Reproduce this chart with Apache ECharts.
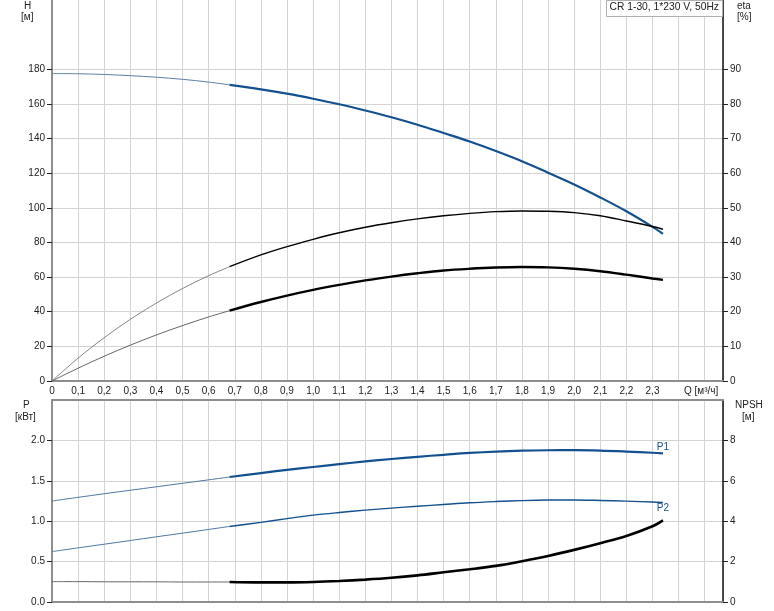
<!DOCTYPE html>
<html><head><meta charset="utf-8">
<script src="https://cdn.jsdelivr.net/npm/echarts@6/dist/echarts.min.js"></script>
<style>html,body{margin:0;padding:0;background:#fff}#c{width:774px;height:611px}</style>
</head><body><div id="c"></div>
<script>
// Flow points (m³/h)
const qPts = [0,0.1,0.2,0.3,0.4,0.5,0.6,0.68,0.8,0.9,1.0,1.1,1.2,1.3,1.4,1.5,1.6,1.7,1.8,1.9,2.0,2.1,2.2,2.3,2.34];
// Head H [m]
const headH = [177.5,177.4,177.0,176.3,175.4,174.2,172.6,171.0,168.4,165.9,163.0,159.8,156.2,152.3,148.0,143.2,138.3,132.8,126.9,120.3,113.5,106.0,98.0,89.0,85.0];
// Efficiency eta [%] (upper curve)
const etaPump = [0,6.6,12.5,17.8,22.5,26.7,30.4,33.0,36.4,38.8,40.9,42.8,44.4,45.7,46.8,47.7,48.4,48.9,49.1,49.0,48.6,47.7,46.2,44.6,43.8];
// Efficiency eta [%] (lower curve)
const etaTotal = [0,3.7,7.15,10.35,13.3,16.0,18.5,20.3,22.8,24.65,26.3,27.75,29.05,30.15,31.1,31.9,32.4,32.75,32.9,32.8,32.4,31.7,30.7,29.6,29.2];
// Power P1, P2 [kW]
const powerP1 = [1.25,1.295,1.34,1.383,1.426,1.469,1.512,1.547,1.596,1.635,1.671,1.706,1.74,1.77,1.797,1.822,1.845,1.862,1.873,1.878,1.879,1.874,1.862,1.847,1.84];
const powerP2 = [0.624,0.67,0.715,0.761,0.807,0.852,0.898,0.935,0.985,1.032,1.075,1.108,1.137,1.162,1.185,1.207,1.228,1.243,1.255,1.262,1.263,1.257,1.248,1.237,1.232];
// NPSH [m]
const npsh = [1.01,1.01,1.0,1.0,1.0,0.99,0.99,0.99,0.97,0.97,0.99,1.04,1.11,1.2,1.32,1.47,1.62,1.79,2.02,2.28,2.58,2.91,3.27,3.75,4.04];
// Start of operating range (thick part)
const qSplit = 0.68;
// Labelled ticks
const hTicks = [0,20,40,60,80,100,120,140,160,180];
const etaTicks = [0,10,20,30,40,50,60,70,80,90];
const pTicks = [0,0.5,1.0,1.5,2.0];
const npshTicks = [0,2,4,6,8];
const titleText = 'CR 1-30, 1*230 V, 50Hz';

const BLUE = '#12508f';
const GRID = '#d3d3d3';
const AXG = '#8e8e8e';
const TXT = '#222';
const FONT = 'Liberation Sans, Arial, sans-serif';

function pairs(vals, thick) {
  const out = [];
  qPts.forEach((q, i) => {
    if (thick ? q >= qSplit : q <= qSplit) out.push([q, vals[i]]);
  });
  return out;
}
function fmtQ(v) {
  if (v > 2.35) return '';
  if (Math.abs(v) < 1e-9) return '0';
  return v.toFixed(1).replace('.', ',');
}
function lineSeries(vals, xi, yi, color, thinW, thickW, thinColor, extra) {
  return [
    {type:'line', xAxisIndex:xi, yAxisIndex:yi, data:pairs(vals,false), smooth:0.35, symbol:'none',
     lineStyle:{color:thinColor, width:thinW}, silent:true, animation:false, z:3},
    Object.assign({type:'line', xAxisIndex:xi, yAxisIndex:yi, data:pairs(vals,true), smooth:0.35, symbol:'none',
     lineStyle:{color:color, width:thickW}, silent:true, animation:false, z:4}, extra||{})
  ];
}
function endMark(vals, text, pos) {
  const n = qPts.length - 1;
  return {markPoint:{symbol:'circle', symbolSize:0, silent:true, animation:false,
    data:[{coord:[qPts[n], vals[n]], label:{show:true, position:pos, distance:1, formatter:text,
      color:BLUE, fontSize:10, fontFamily:FONT}}]}};
}

const lbl = {color:TXT, fontSize:10, fontFamily:FONT};
const xCommon = {type:'value', min:0, max:2.57, interval:0.1,
  splitLine:{show:true, lineStyle:{color:GRID, width:1}}, axisTick:{show:false}};
function yAx(grid, pos, min, max, interval, ticks, fmt, split, axColor, axW) {
  return {type:'value', gridIndex:grid, position:pos, min:min, max:max, interval:interval,
    axisLine:{show:true, onZero:false, lineStyle:{color:axColor, width:axW}},
    axisTick:{show:true, length:5, customValues:ticks, lineStyle:{color:'#222'}},
    axisLabel:Object.assign({}, lbl, {margin:7, customValues:ticks, formatter:fmt}),
    splitLine:{show:split, lineStyle:{color:GRID, width:1}}};
}

const chart = echarts.init(document.getElementById('c'), null, {renderer:'canvas'});
chart.setOption({
  animation:false,
  grid:[
    {left:52, right:51, top:0, height:381},
    {left:52, right:51, top:400, height:202}
  ],
  xAxis:[
    Object.assign({}, xCommon, {gridIndex:0, position:'bottom',
      axisLine:{show:true, onZero:false, lineStyle:{color:AXG, width:2}},
      axisLabel:Object.assign({}, lbl, {margin:5, formatter:fmtQ, showMaxLabel:true})}),
    Object.assign({}, xCommon, {gridIndex:1, position:'bottom',
      axisLine:{show:true, onZero:false, lineStyle:{color:AXG, width:2}},
      axisLabel:{show:false}}),
    {type:'value', gridIndex:1, position:'top', min:0, max:2.57,
      axisLine:{show:true, onZero:false, lineStyle:{color:AXG, width:2}},
      axisLabel:{show:false}, axisTick:{show:false}, splitLine:{show:false}}
  ],
  yAxis:[
    yAx(0, 'left', 0, 220, 20, hTicks, v => String(v), true, AXG, 2),
    yAx(0, 'right', 0, 110, 10, etaTicks, v => String(v), false, '#111', 1.5),
    yAx(1, 'left', 0, 2.5, 0.5, pTicks, v => v.toFixed(1), true, AXG, 2),
    yAx(1, 'right', 0, 10, 2, npshTicks, v => String(v), false, '#111', 1.5)
  ],
  series:[].concat(
    lineSeries(headH, 0, 0, BLUE, 1, 2.2, '#5a7ea5'),
    lineSeries(etaPump, 0, 1, '#000', 0.8, 1.4, '#666'),
    lineSeries(etaTotal, 0, 1, '#000', 0.9, 2.4, '#555'),
    lineSeries(powerP1, 1, 2, BLUE, 1, 2.2, '#4f77a3', endMark(powerP1, 'P1', 'top')),
    lineSeries(powerP2, 1, 2, BLUE, 1, 1.4, '#4f77a3', endMark(powerP2, 'P2', 'bottom')),
    lineSeries(npsh, 1, 3, '#000', 1, 2.6, '#666')
  ),
  graphic:[
    {type:'text', left:24, top:1, style:{text:'H', font:'10px '+FONT, fill:TXT}},
    {type:'text', left:21, top:12, style:{text:'[м]', font:'10px '+FONT, fill:TXT}},
    {type:'text', left:737, top:1, style:{text:'eta', font:'10px '+FONT, fill:TXT}},
    {type:'text', left:737, top:12, style:{text:'[%]', font:'10px '+FONT, fill:TXT}},
    {type:'group', left:606, top:0, children:[
      {type:'rect', shape:{x:0, y:0, width:116, height:16}, style:{fill:'#fff', stroke:'#b0b0b0', lineWidth:1}, z:10},
      {type:'text', x:3, y:2, style:{text:titleText, font:'10.3px '+FONT, fill:TXT}, z:11}
    ]},
    {type:'text', left:684, top:386, style:{text:'Q [м³/ч]', font:'10px '+FONT, fill:TXT}},
    {type:'text', left:23, top:400, style:{text:'P', font:'10px '+FONT, fill:TXT}},
    {type:'text', left:15, top:412, style:{text:'[кВт]', font:'10px '+FONT, fill:TXT}},
    {type:'text', left:735, top:400, style:{text:'NPSH', font:'10px '+FONT, fill:TXT}},
    {type:'text', left:742, top:412, style:{text:'[м]', font:'10px '+FONT, fill:TXT}}
  ]
});
</script></body></html>
